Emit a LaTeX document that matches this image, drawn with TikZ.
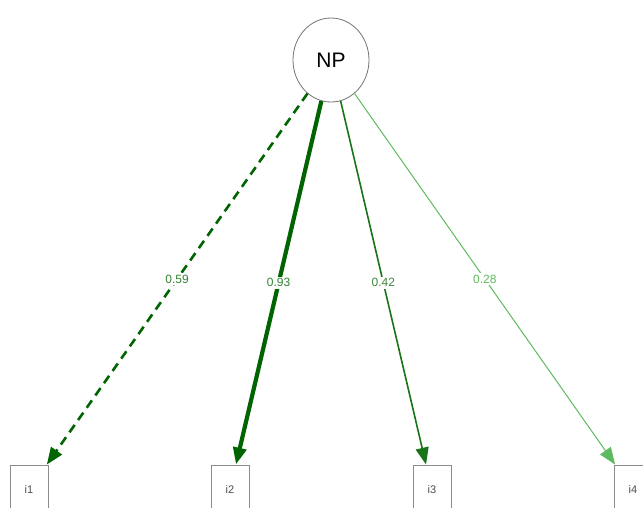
\documentclass[tikz,border=0pt]{standalone}
\usepackage{fontspec}
\setmainfont{Liberation Sans}
\usetikzlibrary{arrows.meta,shapes.geometric}

\definecolor{ldark}{RGB}{0,100,0}
\definecolor{lmid}{RGB}{25,115,25}
\definecolor{llight}{RGB}{95,185,95}

\begin{document}
\begin{tikzpicture}[
  x=1pt, y=-1pt,
  latent/.style={ellipse, draw=black!55, line width=0.8pt, fill=white,
                 minimum width=76pt, minimum height=84pt, inner sep=0pt,
                 font=\fontsize{21}{21}\selectfont},
  manifest/.style={rectangle, draw=black!45, line width=0.9pt, fill=white,
                   minimum width=38pt, minimum height=50pt, inner sep=0pt,
                   font=\fontsize{11}{11}\selectfont, text=black!70},
  loadarr/.style={-{Triangle[length=17pt,width=13pt]}},
  loadlbl/.style={fill=white, inner sep=2pt, font=\fontsize{12}{12}\selectfont}
]
  \useasboundingbox (0,0) rectangle (643,507);

  \node[latent] (np) at (331,60) {NP};
  \node[manifest] (i1) at (29,490) {i1};
  \node[manifest] (i2) at (230,490) {i2};
  \node[manifest] (i3) at (432,490) {i3};
  \node[manifest] (i4) at (633,490) {i4};

  % loadings
  \draw[loadarr, ldark, line width=2.6pt, dash pattern=on 9pt off 6pt] (np) -- node[loadlbl, text=ldark!80]{0.59} (i1);
  \draw[loadarr, ldark, line width=4.2pt] (np) -- node[loadlbl, text=ldark!80]{0.93} (i2);
  \draw[loadarr, lmid, line width=1.6pt] (np) -- node[loadlbl, text=lmid!85]{0.42} (i3);
  \draw[loadarr, llight, line width=1pt] (np) -- node[loadlbl, text=llight]{0.28} (i4);
\end{tikzpicture}
\end{document}
